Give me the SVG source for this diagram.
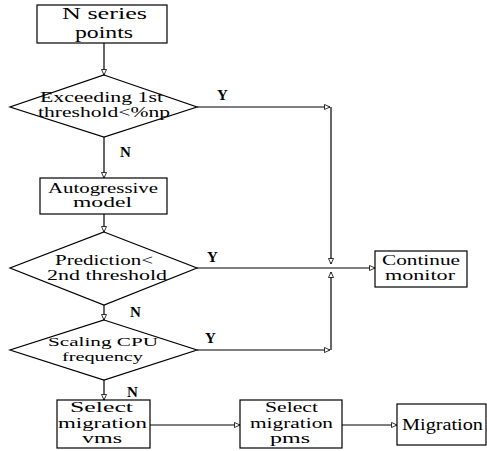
<svg xmlns="http://www.w3.org/2000/svg" width="487" height="451" viewBox="0 0 487 451">
<defs>
<marker id="ah" markerWidth="8" markerHeight="8" refX="6" refY="3" orient="auto" markerUnits="userSpaceOnUse">
<path d="M0.5,0.5 L6,3 L0.5,5.5 Z" fill="#fff" stroke="#000" stroke-width="0.8"/>
</marker>
<style>
.s{fill:#fff;stroke:#000;stroke-width:1.2}
.c{fill:none;stroke:#000;stroke-width:1.2}
text{font-family:"Liberation Serif","Times New Roman",Times,serif;fill:#000}
.t{font-size:17px}
.d{font-size:15px}
.e{font-size:14px}
.f{font-size:13px}
.b{font-size:15px;font-weight:bold}
</style>
</defs>
<rect width="487" height="451" fill="#fff"/>
<g id="connectors">
<path class="c" d="M104,43 V75" marker-end="url(#ah)"/>
<path class="c" d="M104,137 V178" marker-end="url(#ah)"/>
<path class="c" d="M104,214 V232" marker-end="url(#ah)"/>
<path class="c" d="M104,305 V320" marker-end="url(#ah)"/>
<path class="c" d="M104,380 V400" marker-end="url(#ah)"/>
<path class="c" d="M197,107 H330" marker-end="url(#ah)"/>
<path class="c" d="M331,107 V264" marker-end="url(#ah)"/>
<path class="c" d="M197,268 H375" marker-end="url(#ah)"/>
<path class="c" d="M197,350 H330" marker-end="url(#ah)"/>
<path class="c" d="M331,350 V272" marker-end="url(#ah)"/>
<path class="c" d="M150,425 H240" marker-end="url(#ah)"/>
<path class="c" d="M342,425 H397" marker-end="url(#ah)"/>
<text class="b" x="217" y="100">Y</text>
<text class="b" x="120" y="157">N</text>
<text class="b" x="207" y="262">Y</text>
<text class="b" x="130" y="317">N</text>
<text class="b" x="205" y="343">Y</text>
<text class="b" x="127" y="397">N</text>
</g>
<g id="start">
<rect class="s" x="37" y="5" width="130" height="38"/>
<text class="t" x="62" y="19" textLength="85" lengthAdjust="spacingAndGlyphs">N series</text>
<text class="t" x="75" y="38" textLength="58" lengthAdjust="spacingAndGlyphs">points</text>
</g>
<g id="d1">
<polygon class="s" points="104,75 197,107 104,137 10,107"/>
<text class="d" x="40" y="102" textLength="123" lengthAdjust="spacingAndGlyphs">Exceeding 1st</text>
<text class="d" x="38" y="117" textLength="132" lengthAdjust="spacingAndGlyphs">threshold&lt;%np</text>
</g>
<g id="ar">
<rect class="s" x="40" y="178" width="127" height="36"/>
<text class="e" x="48" y="193" textLength="110" lengthAdjust="spacingAndGlyphs">Autogressive</text>
<text class="e" x="73" y="207" textLength="59" lengthAdjust="spacingAndGlyphs">model</text>
</g>
<g id="d2">
<polygon class="s" points="104,232 197,268 104,305 10,268"/>
<text class="d" x="55" y="265" textLength="98" lengthAdjust="spacingAndGlyphs">Prediction&lt;</text>
<text class="d" x="47" y="280" textLength="120" lengthAdjust="spacingAndGlyphs">2nd threshold</text>
</g>
<g id="d3">
<polygon class="s" points="104,320 197,350 104,380 10,350"/>
<text class="f" x="48" y="346" textLength="110" lengthAdjust="spacingAndGlyphs">Scaling CPU</text>
<text class="f" x="62" y="361" textLength="81" lengthAdjust="spacingAndGlyphs">frequency</text>
</g>
<g id="continue">
<rect class="s" x="375" y="251" width="92" height="36"/>
<text class="d" x="382" y="265" textLength="78" lengthAdjust="spacingAndGlyphs">Continue</text>
<text class="d" x="385" y="280" textLength="70" lengthAdjust="spacingAndGlyphs">monitor</text>
</g>
<g id="vms">
<rect class="s" x="57" y="400" width="93" height="48"/>
<text class="d" x="70" y="412" textLength="63" lengthAdjust="spacingAndGlyphs">Select</text>
<text class="d" x="58" y="428" textLength="89" lengthAdjust="spacingAndGlyphs">migration</text>
<text class="d" x="82" y="443" textLength="40" lengthAdjust="spacingAndGlyphs">vms</text>
</g>
<g id="pms">
<rect class="s" x="240" y="400" width="102" height="48"/>
<text class="d" x="265" y="412" textLength="53" lengthAdjust="spacingAndGlyphs">Select</text>
<text class="d" x="250" y="428" textLength="83" lengthAdjust="spacingAndGlyphs">migration</text>
<text class="d" x="270" y="443" textLength="40" lengthAdjust="spacingAndGlyphs">pms</text>
</g>
<g id="migration">
<rect class="s" x="397" y="404" width="89" height="41"/>
<text class="t" x="402" y="430" textLength="81" lengthAdjust="spacingAndGlyphs">Migration</text>
</g>
</svg>
